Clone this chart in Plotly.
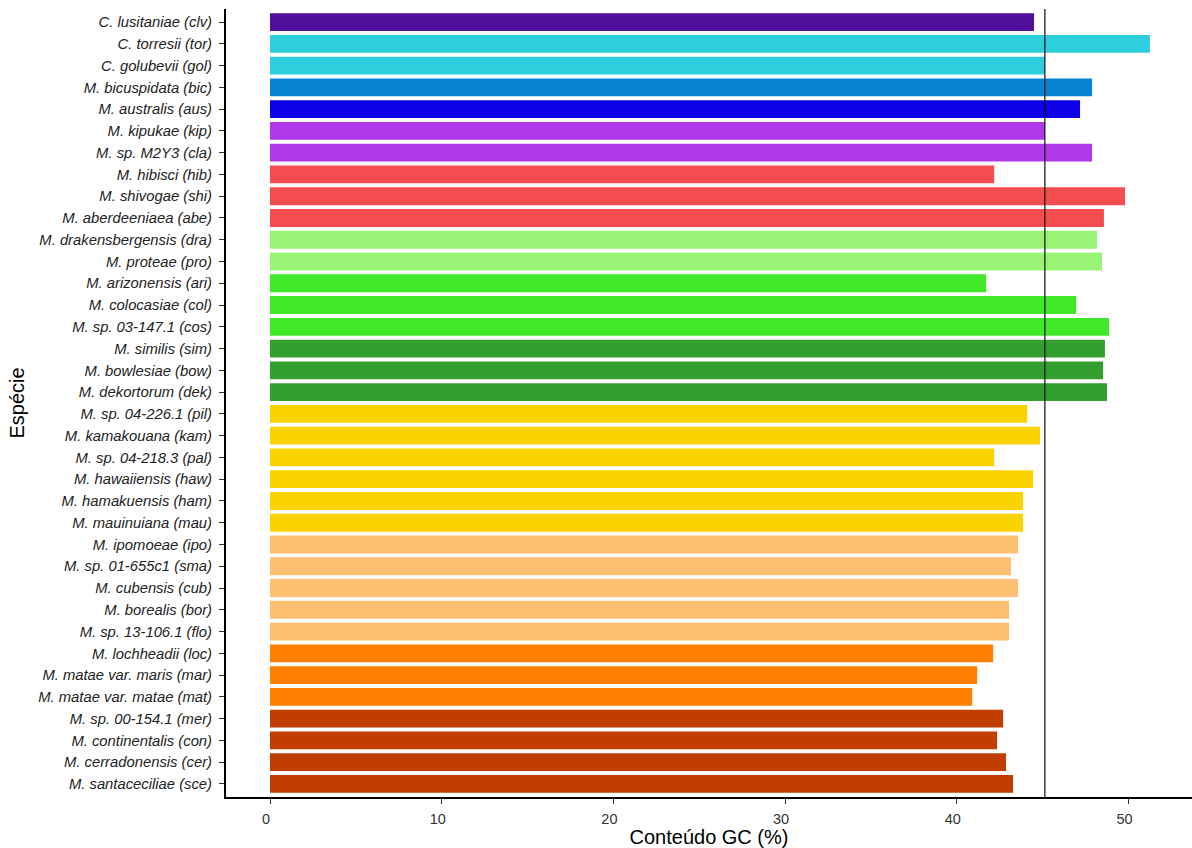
import plotly.graph_objects as go

species = [
    "C. lusitaniae (clv)", "C. torresii (tor)", "C. golubevii (gol)",
    "M. bicuspidata (bic)", "M. australis (aus)", "M. kipukae (kip)",
    "M. sp. M2Y3 (cla)", "M. hibisci (hib)", "M. shivogae (shi)",
    "M. aberdeeniaea (abe)", "M. drakensbergensis (dra)", "M. proteae (pro)",
    "M. arizonensis (ari)", "M. colocasiae (col)", "M. sp. 03-147.1 (cos)",
    "M. similis (sim)", "M. bowlesiae (bow)", "M. dekortorum (dek)",
    "M. sp. 04-226.1 (pil)", "M. kamakouana (kam)", "M. sp. 04-218.3 (pal)",
    "M. hawaiiensis (haw)", "M. hamakuensis (ham)", "M. mauinuiana (mau)",
    "M. ipomoeae (ipo)", "M. sp. 01-655c1 (sma)", "M. cubensis (cub)",
    "M. borealis (bor)", "M. sp. 13-106.1 (flo)", "M. lochheadii (loc)",
    "M. matae var. maris (mar)", "M. matae var. matae (mat)",
    "M. sp. 00-154.1 (mer)", "M. continentalis (con)",
    "M. cerradonensis (cer)", "M. santaceciliae (sce)",
]

gc_content = [
    44.50, 51.25, 45.13, 47.88, 47.18, 45.13, 47.88, 42.18, 49.80, 48.57,
    48.17, 48.46, 41.71, 46.95, 48.87, 48.63, 48.52, 48.75, 44.10, 44.85,
    42.18, 44.45, 43.86, 43.86, 43.57, 43.16, 43.57, 43.05, 43.05, 42.12,
    41.19, 40.90, 42.70, 42.35, 42.87, 43.28,
]

group_colors = [
    "#520F9B", "#2DCEDE", "#2DCEDE", "#0783D4", "#0D00E8", "#AF38EA",
    "#AF38EA", "#F34D4F", "#F34D4F", "#F34D4F", "#99F475", "#99F475",
    "#41E82A", "#41E82A", "#41E82A", "#349F2E", "#349F2E", "#349F2E",
    "#FBD300", "#FBD300", "#FBD300", "#FBD300", "#FBD300", "#FBD300",
    "#FDBF72", "#FDBF72", "#FDBF72", "#FDBF72", "#FDBF72", "#FF8000",
    "#FF8000", "#FF8000", "#BF3E00", "#BF3E00", "#BF3E00", "#BF3E00",
]

reference_gc = 45.13
x_ticks = [0, 10, 20, 30, 40, 50]

n = len(species)
FONT = "Liberation Sans, Arial, sans-serif"

fig = go.Figure()
fig.add_trace(go.Bar(
    x=gc_content,
    y=species,
    orientation="h",
    marker=dict(color=group_colors, line=dict(width=0)),
    width=0.82,
    showlegend=False,
    hoverinfo="x+y",
))

fig.add_shape(
    type="line", xref="x", yref="paper",
    x0=reference_gc, x1=reference_gc, y0=0, y1=1,
    line=dict(color="#111111", width=1.2),
    layer="above",
)

fig.update_layout(
    width=1192, height=848,
    margin=dict(l=226, r=0, t=9, b=51, autoexpand=False),
    paper_bgcolor="white",
    plot_bgcolor="white",
    font=dict(family=FONT, color="#000000"),
)

fig.update_xaxes(
    range=[-2.563, 53.70],
    tickvals=x_ticks,
    ticktext=[str(v) for v in x_ticks],
    showgrid=False, zeroline=False,
    showline=True, linecolor="#000000", linewidth=2,
    ticks="outside", ticklen=5, tickwidth=1.3, tickcolor="#333333",
    ticklabelshift=-4, ticklabelstandoff=3,
    tickfont=dict(size=14.5, color="#333333", family=FONT),
    title=dict(text="Conteúdo GC (%)", font=dict(size=20, color="#000000"), standoff=2),
    automargin=False,
)

fig.update_yaxes(
    type="category",
    categoryorder="array",
    categoryarray=species,
    range=[n - 0.4, -0.6],
    showgrid=False, zeroline=False,
    showline=True, linecolor="#000000", linewidth=2,
    ticks="outside", ticklen=5, tickwidth=1.3, tickcolor="#333333",
    ticklabelstandoff=4,
    tickfont=dict(size=14.8, color="#222222", family=FONT, style="italic"),
    title=dict(text="Espécie", font=dict(size=20, color="#000000"), standoff=8),
    automargin=False,
)

fig.write_html(
    "out.html",
    config={"displayModeBar": False},
    post_script="document.body.style.margin='0';document.body.style.padding='0';",
)
